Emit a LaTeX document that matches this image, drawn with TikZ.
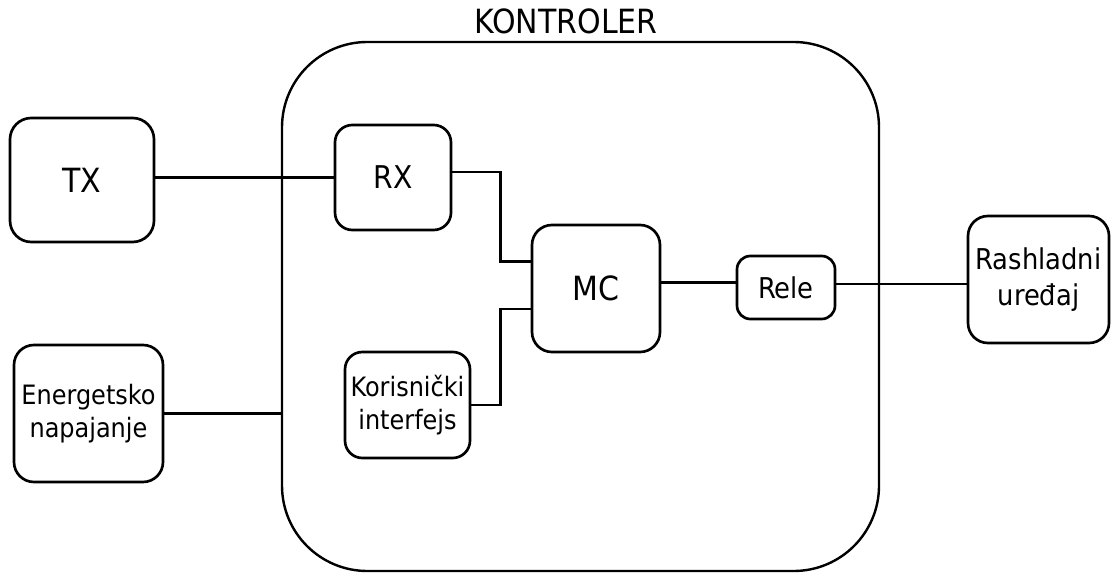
\documentclass[tikz,border=0pt]{standalone}
\usepackage{fontspec}
\setmainfont{DejaVu Sans Condensed}
\usepackage{tikz}
\usetikzlibrary{calc, positioning}
\definecolor{lineBlack}{RGB}{0,0,0}

\begin{document}
\begin{tikzpicture}[
    x=0.75pt, y=-0.75pt,
    % Rounded block: \node[blok=RADIUS] or \node[blok]
    blok/.style={
        rectangle, rounded corners=#1,
        draw=lineBlack, fill=white,
        line width=2pt,
        align=center, inner sep=0pt
    },
    blok/.default=15pt,
    big/.style={font=\fontsize{25}{30}\selectfont},
    mid/.style={font=\fontsize{21.5}{27}\selectfont},
    small/.style={font=\fontsize{20}{24.75}\selectfont},
    wire/.style={draw=lineBlack, line width=2pt}
]
\useasboundingbox (0,0) rectangle (1112,573);
% ── KONTROLER frame ───────────────────────────────────────────
\node[blok=64pt, line width=1.8pt,
      minimum width=447.75pt, minimum height=396.75pt]
    (ctrl) at (580.5,306.5) {};
\node[big] (ctrltitle) at (566,21.5) {KONTROLER};
% ── LEFT COLUMN: outside blocks ───────────────────────────────
\node[blok=16pt, big, minimum width=108pt, minimum height=93pt]
    (tx)   at (82,180)      {TX};
\node[blok, small, minimum width=111.75pt, minimum height=102.75pt]
    (ener) at (88.5,413.5)  {Energetsko\\napajanje};
% ── INSIDE the controller ─────────────────────────────────────
\node[blok=13pt, font=\fontsize{23.5}{27}\selectfont,
      minimum width=87pt, minimum height=78.75pt]
    (rx)   at (393,177.5)   {RX};
\node[blok, big, minimum width=96pt, minimum height=95.25pt]
    (mc)   at (596,288.5)   {MC};
\node[blok=13pt, small, minimum width=93.75pt, minimum height=79.5pt]
    (kor)  at (407.5,405)   {Korisnički\\interfejs};
\node[blok=10pt, mid, minimum width=73.5pt, minimum height=47.25pt]
    (rele) at (786,287.5)   {Rele};
% ── RIGHT: load ───────────────────────────────────────────────
\node[blok, mid, minimum width=105.75pt, minimum height=95.25pt]
    (rash) at (1038.5,279.5) {Rashladni\\uređaj};
% ── WIRES ─────────────────────────────────────────────────────
\draw[wire] (tx.east |- rx.west) -- (rx.west);
\draw[wire] ([yshift=4pt]rx.east)
    -| ([xshift=-22.5pt, yshift=20pt]mc.west) -- ([yshift=20pt]mc.west);
\draw[wire] (kor.east)
    -| ([xshift=-22.5pt, yshift=-15.4pt]mc.west) -- ([yshift=-15.4pt]mc.west);
\draw[wire] ([yshift=4.5pt]mc.east) -- ([yshift=4.5pt]mc.east -| rele.west);
\draw[wire] ([yshift=2.6pt]rele.east) -- ([yshift=2.6pt]rele.east -| rash.west);
% supply wire ends on the controller frame
\draw[wire] (ener.east) -- (ener.east -| ctrl.west);
\end{tikzpicture}
\end{document}
